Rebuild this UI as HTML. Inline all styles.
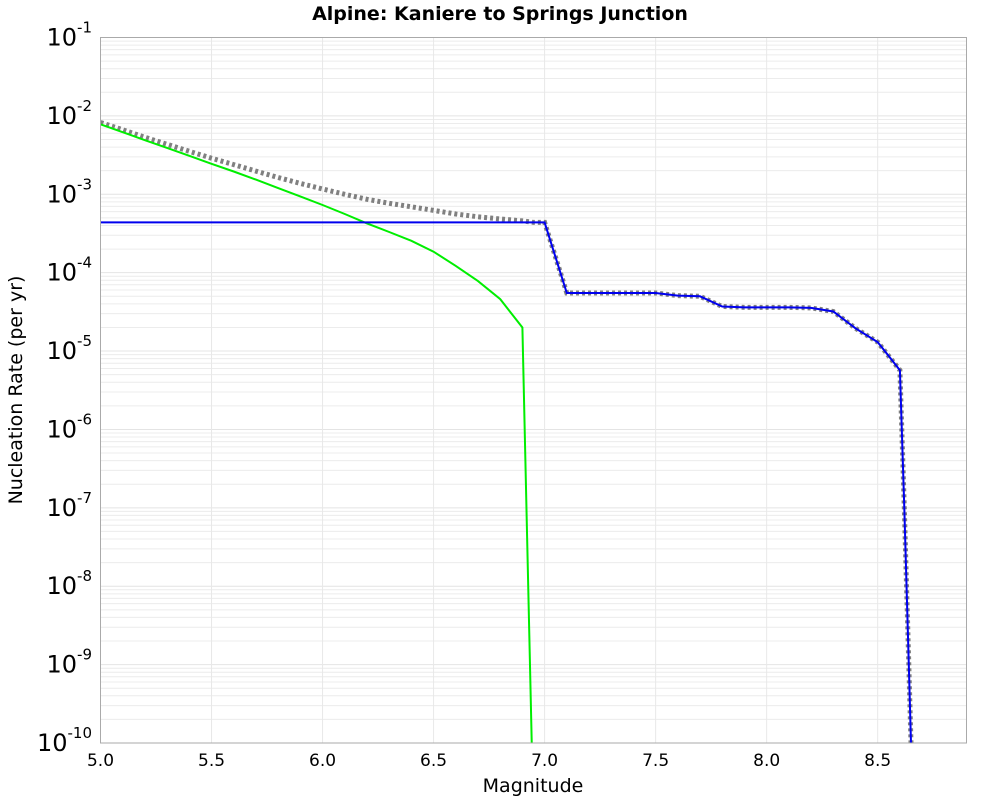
<!DOCTYPE html>
<html><head><meta charset="utf-8"><style>
body{margin:0;background:#fff;}
svg text{font-family:"DejaVu Sans","Liberation Sans",sans-serif;}
</style></head><body>
<svg id="chart" width="1000" height="800" xmlns="http://www.w3.org/2000/svg">
<rect width="1000" height="800" fill="#fff"/>
<text x="500" y="20" text-anchor="middle" font-size="19" font-weight="bold">Alpine: Kaniere to Springs Junction</text>
<g id="grid"></g>
<g id="series"></g>
<rect x="100.5" y="37.5" width="866" height="705.5" fill="none" stroke="#aaa" stroke-width="1"/>
<g id="axes"></g>
<text x="533" y="792" text-anchor="middle" font-size="19">Magnitude</text>
<text transform="translate(22,390) rotate(-90)" text-anchor="middle" font-size="19">Nucleation Rate (per yr)</text>
</svg>
<script>
const xTicks=[5.0,5.5,6.0,6.5,7.0,7.5,8.0,8.5];
const yExps=[-1,-2,-3,-4,-5,-6,-7,-8,-9,-10];
const mags=[5.0,5.1,5.2,5.3,5.4,5.5,5.6,5.7,5.8,5.9,6.0,6.1,6.2,6.3,6.4,6.5,6.6,6.7,6.8,6.9,6.95,7.0,7.1,7.2,7.3,7.4,7.5,7.6,7.7,7.8,7.9,8.0,8.1,8.2,8.3,8.4,8.5,8.6,8.62,8.64,8.66];
const grRates=[7.8e-3,6.2e-3,4.9e-3,3.9e-3,3.1e-3,2.45e-3,1.95e-3,1.54e-3,1.2e-3,9.4e-4,7.3e-4,5.6e-4,4.25e-4,3.3e-4,2.55e-4,1.85e-4,1.22e-4,7.8e-5,4.6e-5,2.0e-5,1e-11,0,0,0,0,0,0,0,0,0,0,0,0,0,0,0,0,0,0,0,0];
const charRates=[4.38e-4,4.38e-4,4.38e-4,4.38e-4,4.38e-4,4.38e-4,4.38e-4,4.38e-4,4.38e-4,4.38e-4,4.38e-4,4.38e-4,4.38e-4,4.38e-4,4.38e-4,4.38e-4,4.38e-4,4.38e-4,4.38e-4,4.38e-4,4.38e-4,4.38e-4,5.5e-5,5.5e-5,5.5e-5,5.5e-5,5.5e-5,5.1e-5,5.0e-5,3.7e-5,3.6e-5,3.6e-5,3.6e-5,3.55e-5,3.2e-5,1.95e-5,1.3e-5,5.7e-6,1e-7,1e-9,1e-11];
const NS='http://www.w3.org/2000/svg';
const X0=100.5,X1=966.5,Y0=37.5,Y1=743;
const xMin=5.0,xMax=8.9,lMax=-1,lMin=-10;
const xs=m=>X0+(m-xMin)/(xMax-xMin)*(X1-X0);
const ys=v=>Y0+(lMax-Math.log10(v))/(lMax-lMin)*(Y1-Y0);
function el(t,a,p){const e=document.createElementNS(NS,t);for(const k in a)e.setAttribute(k,a[k]);p.appendChild(e);return e;}
const grid=document.getElementById('grid'),axes=document.getElementById('axes'),ser=document.getElementById('series');
for(let d=lMin;d<lMax;d++){for(let k=1;k<10;k++){const y=ys(k*Math.pow(10,d));if(y<Y0)continue;
const l=el('line',{x1:X0,x2:X1,y1:y,y2:y,stroke:k==1?'#e4e4e4':'#ececec','stroke-width':1},grid);
}}
xTicks.forEach(t=>{const x=xs(t);const l=el('line',{x1:x,x2:x,y1:Y0,y2:Y1,stroke:'#e8e8e8'},grid);

const tx=el('text',{x:x,y:766,'text-anchor':'middle','font-size':17},axes);tx.textContent=t.toFixed(1);
});
yExps.forEach(e=>{const y=ys(Math.pow(10,e));const tx=el('text',{x:92,y:y+8,'text-anchor':'end','font-size':24},axes);

const a=el('tspan',{},tx);a.textContent='10';const b=el('tspan',{dy:-13,'font-size':15},tx);b.textContent=String(e);});
function path(vals){let d='';let started=false;mags.forEach((m,i)=>{const v=vals[i];if(!(v>0)){started=false;return;}
d+=(started?'L':'M')+xs(m).toFixed(1)+','+ys(v).toFixed(1);started=true;});return d;}
const total=mags.map((m,i)=>grRates[i]+charRates[i]);
const cp=document.createElementNS(NS,'clipPath');cp.id='clip';el('rect',{x:X0,y:Y0,width:X1-X0,height:Y1-Y0},cp);document.getElementById('chart').appendChild(cp);
const g=el('g',{'clip-path':'url(#clip)'},ser);
const p1=el('path',{d:path(total),fill:'none',stroke:'#808080','stroke-width':5,'stroke-dasharray':'3,3'},g);

const p2=el('path',{d:path(grRates),fill:'none',stroke:'#00ee00','stroke-width':2},g);

const p3=el('path',{d:path(charRates),fill:'none',stroke:'#0000ee','stroke-width':2},g);

</script>
</body></html>
